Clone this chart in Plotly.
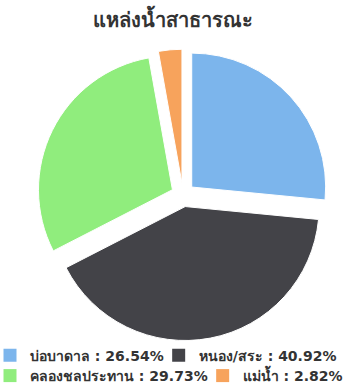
import plotly.graph_objects as go

# Public water sources, share of total (%)
sources = ["บ่อบาดาล", "หนอง/สระ", "คลองชลประทาน", "แม่น้ำ"]
shares = [26.54, 40.92, 29.73, 2.82]
colors = ["#7cb5ec", "#434348", "#90ed7d", "#f7a35c"]
# legend row for each source (two entries per row, flowing left to right)
legend_rows = ["legend", "legend", "legend2", "legend2"]

W, H = 345, 392

legend_labels = [f"{s} : {v:.2f}%" for s, v in zip(sources, shares)]

fig = go.Figure()
fig.add_trace(go.Pie(
    labels=legend_labels,
    values=shares,
    sort=False,
    direction="clockwise",
    rotation=0,
    pull=[0.088] * len(shares),
    marker=dict(colors=colors, line=dict(color="#ffffff", width=1)),
    textinfo="none",
    hoverinfo="label",
    domain=dict(x=[35 / W, 331 / W], y=[1 - 346 / H, 1 - 50 / H]),
    showlegend=False,
))

# legend entries, one per slice, split over two flowing rows
for label, color, row in zip(legend_labels, colors, legend_rows):
    fig.add_trace(go.Scatter(
        x=[None], y=[None],
        mode="markers",
        name=label,
        marker=dict(symbol="square", size=13, color=color),
        legend=row,
        hoverinfo="skip",
    ))

legend_font = dict(family="Tahoma, DejaVu Sans, sans-serif", size=14,
                   color="#333333", weight="bold")

fig.update_layout(
    width=W,
    height=H,
    margin=dict(l=0, r=0, t=0, b=0),
    paper_bgcolor="#ffffff",
    plot_bgcolor="#ffffff",
    xaxis=dict(visible=False),
    yaxis=dict(visible=False),
    title=dict(
        text="<b>แหล่งน้ำสาธารณะ</b>",
        x=0.5,
        xanchor="center",
        y=1 - 20 / H,
        yanchor="middle",
        font=dict(family="Tahoma, DejaVu Sans, sans-serif", size=20, color="#333333"),
    ),
    legend=dict(
        orientation="h", x=0, xanchor="left",
        y=1 - 345 / H, yanchor="top",
        indentation=-10, traceorder="normal",
        font=legend_font, bgcolor="rgba(0,0,0,0)",
    ),
    legend2=dict(
        orientation="h", x=0, xanchor="left",
        y=1 - 366 / H, yanchor="top",
        indentation=-10, traceorder="normal",
        font=legend_font, bgcolor="rgba(0,0,0,0)",
    ),
)

fig.write_html("out.html")
